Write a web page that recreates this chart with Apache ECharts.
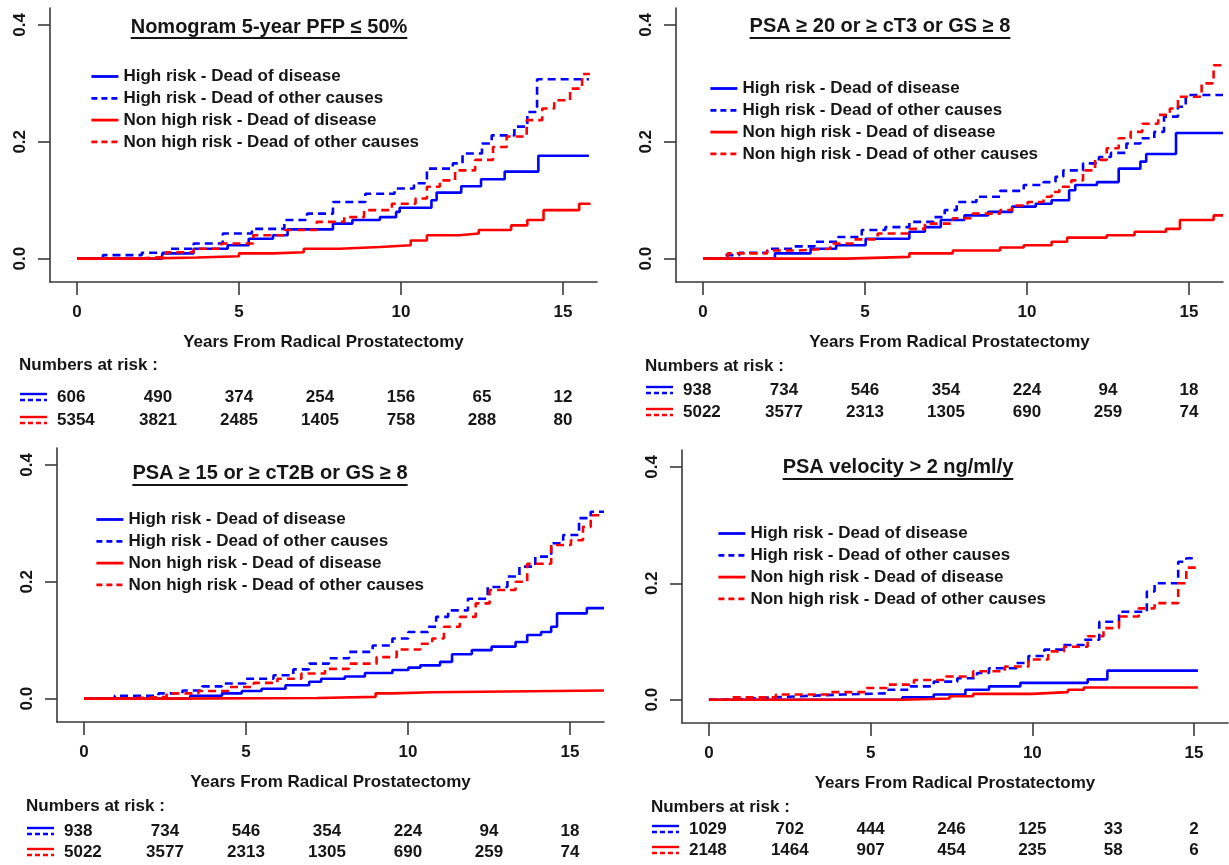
<!DOCTYPE html>
<html><head><meta charset="utf-8">
<script src="https://cdn.jsdelivr.net/npm/echarts@6/dist/echarts.min.js"></script>
<style>html,body{margin:0;padding:0;background:#fff}#c{width:1229px;height:865px}</style>
</head><body><div id="c"></div>
<script>
// ---------------- data ----------------
const xTicks = [0, 5, 10, 15];
const yTicks = [0, 0.2, 0.4];
const seriesNames = ['High risk - Dead of disease', 'High risk - Dead of other causes', 'Non high risk - Dead of disease', 'Non high risk - Dead of other causes'];
const panelTitles = ['Nomogram 5-year PFP \u2264 50%', 'PSA \u2265 20 or \u2265 cT3 or GS \u2265 8', 'PSA \u2265 15 or \u2265 cT2B or GS \u2265 8', 'PSA velocity > 2 ng/ml/y'];
const xAxisTitle = 'Years From Radical Prostatectomy';
const riskLabel = 'Numbers at risk :';
const riskTimes = [0, 2.5, 5, 7.5, 10, 12.5, 15];

const p1RiskHigh = [606, 490, 374, 254, 156, 65, 12];
const p1RiskNon = [5354, 3821, 2485, 1405, 758, 288, 80];
const p2RiskHigh = [938, 734, 546, 354, 224, 94, 18];
const p2RiskNon = [5022, 3577, 2313, 1305, 690, 259, 74];
const p3RiskHigh = [938, 734, 546, 354, 224, 94, 18];
const p3RiskNon = [5022, 3577, 2313, 1305, 690, 259, 74];
const p4RiskHigh = [1029, 702, 444, 246, 125, 33, 2];
const p4RiskNon = [2148, 1464, 907, 454, 235, 58, 6];

// cumulative incidence step curves: [years, value]
const p1HighDisease = [[0,0],[2.63,0.009],[3.6,0.017],[4.65,0.023],[5.3,0.034],[6.05,0.04],[6.5,0.05],[7.9,0.06],[8.5,0.066],[9.35,0.071],[9.85,0.08],[9.96,0.087],[10.94,0.1],[11.1,0.113],[11.86,0.124],[12.47,0.136],[13.2,0.149],[14.24,0.176],[15.8,0.176]];
const p1HighOther = [[0,0],[0.8,0.006],[2.0,0.01],[2.9,0.017],[3.6,0.026],[4.5,0.043],[5.4,0.051],[6.4,0.066],[7.1,0.077],[7.9,0.097],[8.9,0.111],[9.8,0.12],[10.4,0.129],[10.8,0.154],[11.6,0.163],[11.9,0.18],[12.5,0.197],[12.8,0.211],[13.5,0.226],[13.9,0.251],[14.2,0.307],[15.8,0.307]];
const p1NonDisease = [[0,0],[2.0,0.002],[3.7,0.004],[5.0,0.009],[6.05,0.011],[7.0,0.017],[8.1,0.02],[9.35,0.023],[10.3,0.031],[10.8,0.04],[11.8,0.043],[12.4,0.049],[13.4,0.057],[13.9,0.066],[14.4,0.083],[15.5,0.094],[15.85,0.094]];
const p1NonOther = [[0,0],[1.77,0.003],[2.75,0.011],[3.6,0.017],[4.46,0.026],[5.44,0.04],[6.42,0.049],[7.4,0.063],[8.25,0.071],[8.86,0.083],[9.72,0.094],[10.45,0.103],[10.8,0.123],[11.2,0.134],[11.67,0.151],[12.29,0.169],[12.84,0.191],[13.26,0.209],[13.88,0.237],[14.36,0.257],[14.73,0.271],[15.22,0.291],[15.59,0.316],[15.83,0.316]];

const p2HighDisease = [[0,0],[2.22,0.009],[3.32,0.017],[4.11,0.023],[5.02,0.034],[6.37,0.046],[6.85,0.054],[7.34,0.066],[8.07,0.074],[8.8,0.08],[9.54,0.089],[10.27,0.094],[10.76,0.1],[11.3,0.117],[11.49,0.126],[12.16,0.131],[12.83,0.154],[13.5,0.166],[13.68,0.179],[14.6,0.215],[16.05,0.215]];
const p2HighOther = [[0,0],[0.63,0.006],[1.12,0.01],[1.98,0.017],[2.83,0.021],[3.44,0.029],[4.17,0.037],[4.9,0.049],[5.63,0.054],[6.37,0.063],[7.1,0.071],[7.46,0.083],[7.83,0.097],[8.44,0.106],[9.17,0.116],[9.9,0.126],[10.51,0.131],[10.88,0.14],[11.12,0.151],[11.73,0.163],[12.22,0.174],[12.59,0.181],[13.07,0.197],[13.5,0.206],[13.93,0.217],[14.23,0.243],[14.66,0.26],[14.9,0.28],[16.05,0.28]];
const p2NonDisease = [[0,0],[4.41,0.003],[6.37,0.009],[7.71,0.014],[9.17,0.019],[9.9,0.023],[10.76,0.029],[11.24,0.036],[12.46,0.04],[13.32,0.046],[14.29,0.051],[14.72,0.066],[15.76,0.074],[16.05,0.074]];
const p2NonOther = [[0,0],[0.76,0.009],[1.98,0.014],[2.95,0.017],[3.93,0.026],[4.66,0.033],[5.39,0.043],[6.37,0.051],[6.85,0.06],[7.71,0.069],[8.32,0.077],[9.17,0.083],[9.54,0.091],[10.02,0.097],[10.51,0.106],[10.76,0.114],[11.0,0.123],[11.37,0.134],[11.73,0.151],[12.1,0.169],[12.46,0.189],[12.83,0.206],[13.2,0.217],[13.56,0.231],[14.05,0.246],[14.41,0.257],[14.66,0.277],[15.39,0.3],[15.76,0.331],[16.05,0.331]];

const p3HighDisease = [[0,0],[3.28,0.005],[4.26,0.009],[4.87,0.013],[5.48,0.017],[6.22,0.023],[6.95,0.029],[7.32,0.034],[8.05,0.038],[8.67,0.044],[9.52,0.049],[10.01,0.053],[10.38,0.057],[10.99,0.063],[11.36,0.076],[11.97,0.083],[12.58,0.089],[13.32,0.097],[13.68,0.109],[14.11,0.114],[14.42,0.123],[14.6,0.146],[15.52,0.155],[16.05,0.155]];
const p3HighOther = [[0,0],[0.95,0.005],[2.3,0.009],[3.04,0.014],[3.65,0.021],[4.26,0.026],[4.99,0.034],[5.85,0.04],[6.46,0.05],[6.95,0.06],[7.56,0.069],[8.18,0.08],[8.91,0.091],[9.52,0.103],[10.01,0.114],[10.62,0.123],[10.87,0.14],[11.24,0.151],[11.85,0.171],[12.46,0.191],[13.07,0.209],[13.44,0.226],[13.93,0.243],[14.42,0.266],[14.79,0.28],[15.28,0.309],[15.64,0.32],[16.05,0.32]];
const p3NonDisease = [[0,0],[2.3,0.001],[7.2,0.003],[9.0,0.009],[9.52,0.011],[10.74,0.014],[16.05,0.014]];
const p3NonOther = [[0,0],[1.08,0.003],[2.55,0.009],[3.53,0.013],[4.5,0.02],[5.24,0.027],[5.97,0.034],[6.71,0.043],[7.44,0.051],[8.18,0.06],[9.03,0.071],[9.65,0.084],[10.38,0.094],[10.75,0.103],[11.11,0.123],[11.6,0.14],[12.09,0.163],[12.52,0.186],[13.32,0.2],[13.68,0.231],[14.42,0.263],[15.03,0.271],[15.4,0.294],[15.64,0.314],[16.05,0.314]];

const p4HighDisease = [[0,0],[5.98,0.004],[6.95,0.009],[7.93,0.017],[8.66,0.023],[9.63,0.029],[11.71,0.035],[12.32,0.05],[15.12,0.05]];
const p4HighOther = [[0,0],[0.61,0.003],[1.59,0.006],[2.8,0.009],[4.15,0.011],[5.49,0.017],[6.22,0.023],[6.95,0.031],[7.68,0.037],[8.29,0.046],[8.66,0.054],[9.51,0.063],[9.88,0.075],[10.37,0.086],[10.98,0.094],[11.59,0.103],[12.07,0.134],[12.68,0.151],[13.54,0.186],[13.78,0.2],[14.51,0.237],[14.76,0.243],[15.12,0.243]];
const p4NonDisease = [[0,0],[5.98,0.002],[7.44,0.006],[8.17,0.01],[10.0,0.013],[11.1,0.017],[11.59,0.021],[15.12,0.021]];
const p4NonOther = [[0,0],[0.61,0.004],[2.07,0.009],[3.78,0.013],[4.88,0.02],[5.49,0.026],[6.34,0.034],[7.32,0.04],[8.17,0.049],[9.15,0.057],[9.88,0.069],[10.49,0.083],[10.98,0.091],[11.71,0.109],[12.2,0.123],[12.68,0.143],[13.29,0.157],[13.78,0.166],[14.51,0.2],[14.76,0.227],[15.12,0.227]];

// ---------------- layout / style ----------------
const FONT = '"Liberation Sans", Arial, Helvetica, sans-serif';
const TXT = '#151515';
const AX = '#3a3a3a';
const BLUE = '#0000ff', RED = '#ff0000';
const DASH = [8, 5];
const panels = [
  {grid:{left:50,top:8,width:547,height:274}, curves:[p1HighDisease,p1HighOther,p1NonDisease,p1NonOther], risk:[p1RiskHigh,p1RiskNon],
   title:{cx:269,cy:27,ul:38}, legend:{left:90,top:68}, riskY:[365,397,420]},
  {grid:{left:676,top:8,width:547,height:274}, curves:[p2HighDisease,p2HighOther,p2NonDisease,p2NonOther], risk:[p2RiskHigh,p2RiskNon],
   title:{cx:880,cy:26,ul:38}, legend:{left:709,top:80}, riskY:[366,390,412]},
  {grid:{left:57,top:448,width:547,height:274}, curves:[p3HighDisease,p3HighOther,p3NonDisease,p3NonOther], risk:[p3RiskHigh,p3RiskNon],
   title:{cx:270,cy:473,ul:485}, legend:{left:95,top:511}, riskY:[806,831,852]},
  {grid:{left:682,top:450,width:546,height:273}, curves:[p4HighDisease,p4HighOther,p4NonDisease,p4NonOther], risk:[p4RiskHigh,p4RiskNon],
   title:{cx:898,cy:467,ul:479}, legend:{left:717,top:525}, riskY:[807,829,850]}
];
const styles = [
  {color:BLUE, type:'solid'}, {color:BLUE, type:DASH}, {color:RED, type:'solid'}, {color:RED, type:DASH}
];

const labelStyle = {fontFamily:FONT, fontSize:17, fontWeight:'bold', color:TXT};

const option = {
  animation:false,
  backgroundColor:'#fff',
  grid: panels.map(p => Object.assign({containLabel:false}, p.grid)),
  xAxis: panels.map((p,i) => ({
    type:'value', gridIndex:i, min:-0.833, max:16.05, position:'bottom',
    name:xAxisTitle, nameLocation:'middle', nameGap:52,
    nameTextStyle:{fontFamily:FONT, fontSize:17, fontWeight:'bold', color:TXT},
    axisLine:{show:true, onZero:false, lineStyle:{color:AX, width:1.6}},
    axisTick:{show:true, customValues:xTicks, length:13, lineStyle:{color:AX, width:1.6}},
    axisLabel:Object.assign({customValues:xTicks, margin:22}, labelStyle),
    splitLine:{show:false}
  })),
  yAxis: panels.map((p,i) => ({
    type:'value', gridIndex:i, min:-0.04, max:0.429,
    axisLine:{show:true, onZero:false, lineStyle:{color:AX, width:1.6}},
    axisTick:{show:true, customValues:yTicks, length:12, lineStyle:{color:AX, width:1.6}},
    axisLabel:Object.assign({customValues:yTicks, margin:21, rotate:90, formatter:v => v.toFixed(1)}, labelStyle),
    splitLine:{show:false}
  })),
  legend: panels.map(p => ({
    orient:'vertical', left:p.legend.left, top:p.legend.top, padding:0,
    itemWidth:27, itemHeight:14, itemGap:4.8, selectedMode:false,
    textStyle:{fontFamily:FONT, fontSize:17, fontWeight:'bold', color:TXT},
    data: seriesNames.map((n,k) => ({name:n, itemStyle:{opacity:0, borderWidth:0},
      lineStyle:{color:styles[k].color, width:2.8, opacity:1, type: k%2 ? [6,4] : 'solid'}}))
  })),
  series: []
};
panels.forEach((p,i) => {
  p.curves.forEach((d,k) => {
    option.series.push({
      type:'line', name:seriesNames[k], xAxisIndex:i, yAxisIndex:i, data:d, step:'end',
      symbol:'none', showSymbol:false, silent:true, clip:true,
      lineStyle:{color:styles[k].color, width:2.6, type:styles[k].type},
      itemStyle:{color:styles[k].color}
    });
  });
});

const chart = echarts.init(document.getElementById('c'), null, {renderer:'canvas'});
chart.setOption(option);

// ---------- titles, risk tables (positions via axes) ----------
const cv = document.createElement('canvas').getContext('2d');
function textW(s, size){ cv.font = 'bold ' + size + 'px ' + FONT; return cv.measureText(s).width; }
const TITLE_SIZE = 20;
const graphics = [];
panels.forEach((p,i) => {
  const t = panelTitles[i];
  const w = textW(t, TITLE_SIZE);
  graphics.push({type:'text', x:p.title.cx, y:p.title.cy, style:{text:t, fontFamily:FONT, fontSize:TITLE_SIZE, fontWeight:'bold', fill:TXT, align:'center', verticalAlign:'middle'}});
  graphics.push({type:'line', shape:{x1:p.title.cx - w/2, y1:p.title.ul, x2:p.title.cx + w/2, y2:p.title.ul}, style:{stroke:TXT, lineWidth:2.2}});

  const x0 = chart.convertToPixel({xAxisIndex:i}, 0);
  graphics.push({type:'text', x:x0 - 58, y:p.riskY[0], style:{text:riskLabel, fontFamily:FONT, fontSize:17, fontWeight:'bold', fill:TXT, align:'left', verticalAlign:'middle'}});
  p.risk.forEach((row, r) => {
    const y = p.riskY[r+1];
    const col = r === 0 ? BLUE : RED;
    graphics.push({type:'line', shape:{x1:x0-57, y1:y-3, x2:x0-30, y2:y-3}, style:{stroke:col, lineWidth:2.4}});
    graphics.push({type:'line', shape:{x1:x0-57, y1:y+3, x2:x0-30, y2:y+3}, style:{stroke:col, lineWidth:2.4, lineDash:[5,3]}});
    row.forEach((v, c) => {
      const xp = c === 0 ? x0 - 20 : chart.convertToPixel({xAxisIndex:i}, riskTimes[c]);
      graphics.push({type:'text', x:xp, y:y, style:{text:String(v), fontFamily:FONT, fontSize:17, fontWeight:'bold', fill:TXT, align: c === 0 ? 'left' : 'center', verticalAlign:'middle'}});
    });
  });
});
chart.setOption({graphic: graphics});
</script>
</body></html>
